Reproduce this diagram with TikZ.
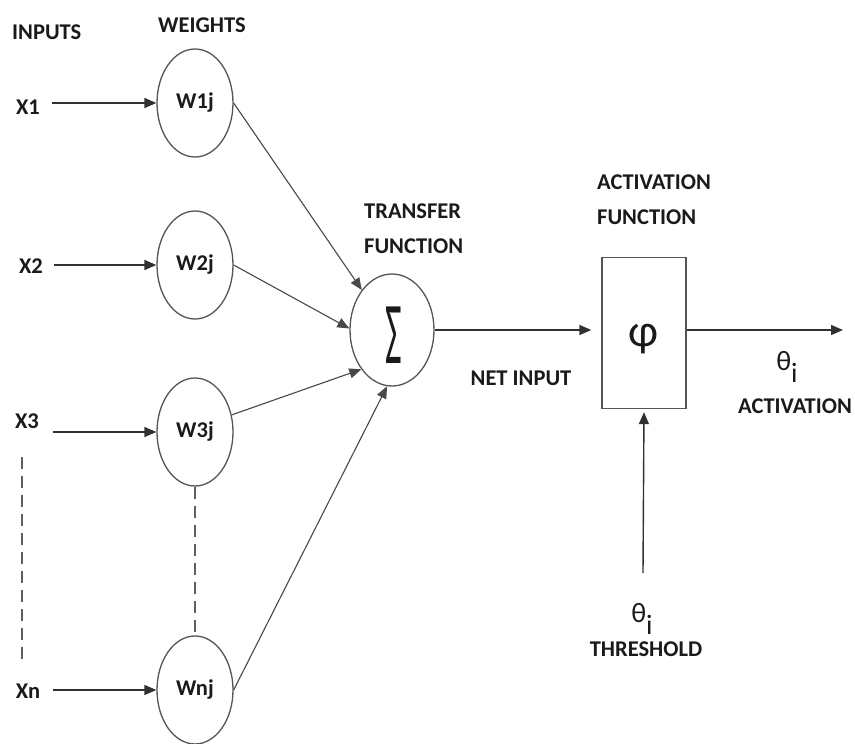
\documentclass[tikz,border=0pt]{standalone}
\usepackage{fontspec}
\setmainfont{Carlito}
\usetikzlibrary{arrows.meta,shapes.geometric}

\definecolor{ink}{HTML}{1A1A1A}
\definecolor{edge}{HTML}{555555}

\tikzset{
  lbl/.style={text=ink, font=\bfseries\fontsize{22.5}{26}\selectfont, inner sep=0pt},
  lbltwo/.style={lbl, align=left, font=\bfseries\fontsize{22.5}{35}\selectfont},
  weight/.style={ellipse, draw=edge, line width=1.3pt, minimum width=76pt,
    minimum height=108pt, inner sep=0pt, text=ink,
    font=\bfseries\fontsize{22.5}{26}\selectfont},
  sumnode/.style={ellipse, draw=edge, line width=1.3pt, minimum width=84pt,
    minimum height=112pt, inner sep=0pt, text=ink},
  actbox/.style={rectangle, draw=edge, line width=1.3pt, minimum width=84pt,
    minimum height=151pt, inner sep=0pt, text=ink},
  greek/.style={text=ink, inner sep=0pt, font=\fontsize{28}{30}\selectfont},
  link/.style={draw=ink!90, line width=1.4pt,
    -{Triangle[length=12pt,width=10pt]}},
  thinlink/.style={draw=ink!80, line width=1.1pt,
    -{Triangle[length=12pt,width=10pt]}},
  dashline/.style={draw=ink!70, line width=1.1pt, dash pattern=on 12pt off 7pt}
}

\begin{document}
\begin{tikzpicture}[x=1pt, y=-1pt]
  \useasboundingbox (0,0) rectangle (855,744);

  % column headings
  \node[lbl, anchor=west] (hin) at (12,32) {INPUTS};
  \node[lbl] (hw) at (202,25) {WEIGHTS};

  % inputs
  \node[lbl] (x1) at (28,107) {X1};
  \node[lbl] (x2) at (31,266) {X2};
  \node[lbl] (x3) at (27,421) {X3};
  \node[lbl] (xn) at (28,691) {Xn};

  % weights
  \node[weight] (w1) at (195,103) {W1j};
  \node[weight] (w2) at (195,265) {W2j};
  \node[weight] (w3) at (195,432) {W3j};
  \node[weight] (wn) at (195,690) {Wnj};

  % summing junction
  \node[lbltwo, anchor=west] (htf) at (364,229) {TRANSFER\\FUNCTION};
  \node[sumnode] (sum) at (392,330) {};
  \node[text=ink, inner sep=0pt] (sig) at (394,335)
    {\scalebox{1}[2.45]{\fontsize{36}{36}\selectfont Σ}};
  \node[lbl] (net) at (521,378) {NET INPUT};

  % activation block
  \node[lbltwo, anchor=west] (haf) at (597,200) {ACTIVATION\\FUNCTION};
  \node[actbox] (box) at (644,333) {};
  \node[text=ink, inner sep=0pt, font=\fontsize{46}{48}\selectfont] (phi)
    at (643,339) {φ};

  % output
  \coordinate (out) at (843,330);
  \node[greek] (th2) at (787,367) {θ\raisebox{-0.42em}{i}};
  \node[lbl] (hact) at (795,406) {ACTIVATION};

  % threshold
  \coordinate (thr) at (643,573);
  \node[greek] (th1) at (642,619) {θ\raisebox{-0.42em}{i}};
  \node[lbl] (hthr) at (646,649) {THRESHOLD};

  % input arrows
  \draw[link] ([xshift=12pt]x1.east |- w1.west) -- (w1.west);
  \draw[link] ([xshift=11pt]x2.east |- w2.west) -- (w2.west);
  \draw[link] ([xshift=14pt]x3.east |- w3.west) -- (w3.west);
  \draw[link] ([xshift=13pt]xn.east |- wn.west) -- (wn.west);

  % weighted inputs into the sum
  \draw[thinlink] (w1.east) -- (sum.127);
  \draw[thinlink] (w2.east) -- (sum.178);
  \draw[thinlink] (w3.25) -- (sum.232);
  \draw[thinlink] (wn.east) -- (sum.265);

  % elided inputs
  \coordinate (d1) at (22,457);
  \coordinate (d2) at (22,663);
  \draw[dashline] (d1) -- (d2);
  \draw[dashline] (w3.south) -- (wn.north);

  % net input to activation, output, threshold
  \draw[link, shorten >=10pt] (sum.east) -- (box.west |- sum.east);
  \draw[link] (box.east |- out) -- (out);
  \draw[link, shorten >=3pt] (thr) -- (box.south);
\end{tikzpicture}
\end{document}
